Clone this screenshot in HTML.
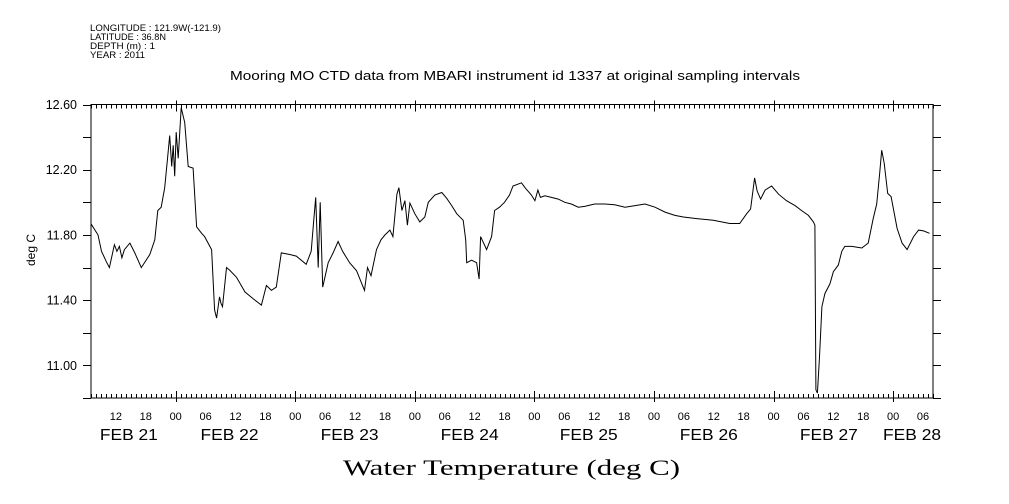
<!DOCTYPE html>
<html><head><meta charset="utf-8"><style>
body{margin:0;background:#fff;width:1009px;height:504px;overflow:hidden}
svg{display:block}
text{font-family:"Liberation Sans",sans-serif;fill:#000}
</style></head><body>
<svg id="chart" width="1009" height="504" viewBox="0 0 1009 504" xmlns="http://www.w3.org/2000/svg">
<g font-size="9.5">
<text x="90" y="31" textLength="131" lengthAdjust="spacingAndGlyphs">LONGITUDE : 121.9W(-121.9)</text>
<text x="90" y="40" textLength="76" lengthAdjust="spacingAndGlyphs">LATITUDE : 36.8N</text>
<text x="90" y="49" textLength="65" lengthAdjust="spacingAndGlyphs">DEPTH (m) : 1</text>
<text x="90" y="58" textLength="55" lengthAdjust="spacingAndGlyphs">YEAR : 2011</text>
</g>
<text x="230" y="80" font-size="12.5" textLength="570" lengthAdjust="spacingAndGlyphs">Mooring MO CTD data from MBARI instrument id 1337 at original sampling intervals</text>
<text x="343" y="475" font-size="22" textLength="337" lengthAdjust="spacingAndGlyphs" style="font-family:'Liberation Serif',serif">Water Temperature (deg C)</text>
<text x="0" y="0" font-size="12" text-anchor="middle" transform="translate(35,250) rotate(-90)">deg C</text>
<g id="axes"></g>
<g id="series"></g>
</svg>
<script>
// hours since FEB 21 00:00
const sampleHours=[7.07,8.4,9.1,10.1,10.7,11.7,12.2,12.7,13.2,13.7,14.8,15.8,17.1,18.8,19.8,20.4,21.1,21.8,22.4,22.8,23.2,23.5,23.8,24.1,24.5,25.1,25.8,26.5,27.5,28.2,29.2,29.8,31.2,31.8,32.2,32.8,33.1,33.4,34.2,34.8,36.2,37.9,39.5,41.2,42.2,43.2,44.2,45.2,46.9,48.2,50.2,51.2,51.6,52.1,52.6,53.0,53.5,54.6,55.6,56.6,57.5,58.9,60.3,61.9,62.5,63.2,64.3,65.2,66.0,67.0,67.6,68.4,68.8,69.4,70.0,70.5,71.0,72.0,73.0,74.0,74.7,76.0,77.4,78.4,79.4,80.4,81.7,82.2,82.4,83.4,84.4,84.9,85.2,86.4,87.4,88.0,89.0,90.0,91.0,91.7,93.4,94.1,95.4,96.1,96.7,97.2,98.1,99.4,100.8,102.1,103.4,104.8,106.1,108.1,110.1,112.1,114.2,116.2,118.2,120.2,122.2,124.2,125.9,128.6,131.9,135.2,137.2,138.6,139.4,139.8,140.2,140.7,141.4,142.3,143.6,145.0,146.6,148.3,149.6,151.0,152.0,152.3,152.5,152.8,153.2,153.7,154.3,155.3,156.0,157.0,157.7,158.3,159.7,161.7,163.0,164.0,164.7,165.3,165.7,166.2,166.9,167.6,168.8,169.8,170.8,172.1,173.1,174.1,175.3];
const temperatures=[11.865,11.80,11.70,11.635,11.60,11.74,11.70,11.73,11.66,11.71,11.75,11.69,11.60,11.68,11.77,11.95,11.97,12.09,12.28,12.41,12.22,12.35,12.16,12.43,12.27,12.58,12.49,12.22,12.21,11.85,11.81,11.79,11.71,11.34,11.29,11.42,11.38,11.36,11.60,11.585,11.54,11.45,11.41,11.37,11.49,11.46,11.48,11.69,11.68,11.67,11.62,11.70,11.85,12.03,11.60,12.00,11.48,11.63,11.69,11.76,11.70,11.63,11.58,11.46,11.60,11.55,11.71,11.77,11.80,11.83,11.79,12.05,12.09,11.95,12.01,11.86,11.995,11.93,11.88,11.91,12.00,12.045,12.06,12.025,11.98,11.93,11.89,11.77,11.63,11.645,11.63,11.53,11.79,11.71,11.79,11.95,11.97,12.00,12.045,12.10,12.12,12.09,12.045,12.01,12.075,12.03,12.04,12.03,12.02,12.00,11.99,11.97,11.975,11.99,11.99,11.985,11.97,11.98,11.99,11.97,11.94,11.92,11.91,11.90,11.89,11.87,11.87,11.93,11.96,12.055,12.15,12.07,12.02,12.075,12.10,12.05,12.01,11.98,11.95,11.92,11.88,11.86,10.85,10.83,11.04,11.36,11.44,11.50,11.575,11.615,11.70,11.73,11.73,11.72,11.75,11.90,11.99,12.18,12.32,12.24,12.055,12.035,11.84,11.75,11.71,11.79,11.83,11.825,11.81];
const yTickValues=[10.8,11.0,11.2,11.4,11.6,11.8,12.0,12.2,12.4,12.6];
const yTickLabels=["11.00","11.40","12.20","11.80","12.60"];
const yLabelValues=[11.0,11.4,12.2,11.8,12.6];
const hourLabelHours=[12,18,24,30,36,42,48,54,60,66,72,78,84,90,96,102,108,114,120,126,132,138,144,150,156,162,168,174];
const dateLabels=["FEB 21","FEB 22","FEB 23","FEB 24","FEB 25","FEB 26","FEB 27","FEB 28"];
const dateLabelHours=[14.6,34.8,58.9,83.0,106.9,131.0,155.1,171.8];

const L=91,R=933,T=104.5,B=398;
const H0=7,H1=176,V0=10.8,V1=12.6;
const xs=h=>L+(h-H0)/(H1-H0)*(R-L);
const ys=v=>B-(v-V0)/(V1-V0)*(B-T);
const NS="http://www.w3.org/2000/svg";
const axes=document.getElementById('axes');
function mk(tag,attrs,parent){const e=document.createElementNS(NS,tag);for(const k in attrs)e.setAttribute(k,attrs[k]);parent.appendChild(e);return e;}

const frame=mk('rect',{x:L,y:T,width:R-L,height:B-T,fill:'none',stroke:'#000','stroke-width':1},axes);



let d='';
for(let h=H0;h<=H1;h++){
  const x=Math.round(xs(h))+0.5;
  if(h%24===0){d+=`M${x} ${B+4}V${B-7}M${x} ${T-4}V${T+7}`;}
  else{d+=`M${x} ${B}V${B-4}M${x} ${T}V${T+4}`;}
}
yTickValues.forEach(v=>{const y=Math.round(ys(v))+0.5;d+=`M${L} ${y}H${L-8}M${R} ${y}H${R+8}`;});
const ticks=mk('path',{d:d,stroke:'#000','stroke-width':1,fill:'none'},axes);



yLabelValues.forEach((v,i)=>{
  const t=mk('text',{x:77,y:ys(v)+4.5,'font-size':12.5,'text-anchor':'end'},axes);
  t.textContent=yTickLabels[i];
  
  
});
hourLabelHours.forEach(h=>{
  const t=mk('text',{x:xs(h),y:420,'font-size':11,'text-anchor':'middle'},axes);
  t.textContent=String(h%24).padStart(2,'0');
  
  
});
dateLabels.forEach((s,i)=>{
  const t=mk('text',{x:xs(dateLabelHours[i])-29,y:440,'font-size':16,textLength:58,lengthAdjust:'spacingAndGlyphs'},axes);
  t.textContent=s;
  
  
});

const pts=sampleHours.map((h,i)=>xs(h).toFixed(1)+','+ys(temperatures[i]).toFixed(1)).join(' ');
const line=mk('polyline',{points:pts,fill:'none',stroke:'#000','stroke-width':1},document.getElementById('series'));


</script>
</body></html>
